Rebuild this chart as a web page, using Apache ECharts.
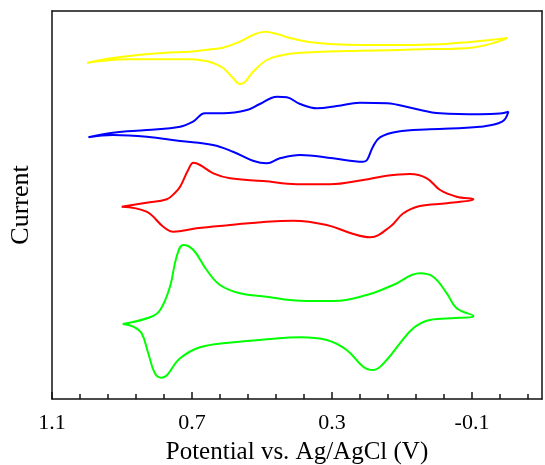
<!DOCTYPE html>
<html>
<head>
<meta charset="utf-8">
<script src="https://cdn.jsdelivr.net/npm/echarts@6/dist/echarts.min.js"></script>
<style>html,body{margin:0;padding:0;background:#fff}#c{width:545px;height:465px}</style>
</head>
<body>
<div id="c"></div>
<script>
// Potential (V vs Ag/AgCl) and current (a.u.), traced loop by loop
const yellowV = [1.000,0.926,0.783,0.706,0.640,0.611,0.563,0.526,0.491,0.457,0.420,0.371,0.306,0.211,0.106,-0.009,-0.103,-0.151,-0.200,
  -0.171,-0.103,-0.009,0.020,0.106,0.257,0.400,0.440,0.486,0.526,0.549,0.563,0.583,0.611,0.640,0.669,0.706,0.734,0.877,0.963,1.000];
const yellowI = [336,341,346,347.3,350,351.3,357.3,364,367.3,365,361,357.3,355,354,354,354.7,357.3,359,361,
  357,351.5,350,350,349,348,346,344,339,327,317,315,321,331,336,338.5,339.7,339.7,339.7,338,336];

const blueV = [0.996,0.926,0.829,0.734,0.697,0.663,0.611,0.543,0.506,0.457,0.429,0.391,0.343,0.286,0.220,0.143,0.069,-0.009,-0.123,-0.180,-0.204,
  -0.186,-0.123,0.020,0.114,0.163,0.183,0.200,0.211,0.297,0.391,0.449,0.486,0.526,0.583,0.640,0.734,0.829,0.926,0.996];
const blueI = [261.7,266.3,269,272.3,277.3,285.7,285.7,289,295,302.3,301.7,295,290.7,293,296.3,295.7,290.7,285.7,284.7,285.5,287.3,
  277.3,272.3,269.7,267.3,261.7,252.3,239,237.3,240.7,244,240.7,235.7,238.3,247.3,254,258,262.3,264,261.7];

const redV = [0.901,0.830,0.772,0.749,0.734,0.711,0.696,0.677,0.639,0.591,0.496,0.401,0.306,0.211,0.144,0.077,0.029,-0.009,-0.056,-0.104,
  -0.028,0.049,0.096,0.134,0.191,0.239,0.315,0.410,0.487,0.591,0.687,0.753,0.782,0.830,0.901];
const redI = [192.3,196.3,199.7,206,212.3,229,236.3,234,225.7,220.7,218,214.7,214.7,219,223.3,225,220.7,209,202.3,199.7,
  195.7,193,185.7,172.3,161.7,165,174,178.3,177.3,174,170.7,167.3,172.3,187.3,192.3];

const greenV = [0.898,0.820,0.791,0.763,0.744,0.725,0.696,0.658,0.620,0.563,0.487,0.391,0.296,0.201,0.125,0.049,0.011,-0.028,-0.056,-0.104,
  -0.037,0.029,0.068,0.106,0.144,0.182,0.211,0.258,0.315,0.391,0.487,0.582,0.677,0.734,0.787,0.806,0.825,0.844,0.868,0.898];
const greenI = [75,81.7,89,112.3,142.3,154,149,129,114,105.7,102.3,98.3,98,104,114,125.7,122.3,105.7,90.7,83,
  80.7,78.3,70.7,55.7,39,29,32.3,49,59,61.7,59.7,56.7,51.7,40.7,21.3,25.7,45.7,65.7,72.3,75];

// Axis: potential runs from 1.1 V (left) down to -0.3 V (right)
const vLeft = 1.1, vRight = -0.3;
const majorTicks = [1.1, 0.7, 0.3, -0.1];
const tickLabels = ['1.1', '0.7', '0.3', '-0.1'];
const minorTicks = [1.02,0.94,0.86,0.78,0.62,0.54,0.46,0.38,0.22,0.14,0.06,-0.02,-0.18,-0.26];

// axis coordinate = distance from the left end (vLeft - V)
const toAxis = v => Math.round((vLeft - v) * 1e6) / 1e6;
function pairs(v, i){ return v.map((x,k)=>[toAxis(x), i[k]]); }

const chart = echarts.init(document.getElementById('c'));
const font = 'Liberation Serif, Times New Roman, serif';
const frame = () => ({color:'#111', width:1.5});
const mk = (name, color, v, i) => ({
  name, type:'line', xAxisIndex:0, yAxisIndex:0, data: pairs(v,i), showSymbol:false, symbol:'none',
  smooth:0.4, lineStyle:{color, width:2}, itemStyle:{color}, animation:false
});
// tick marks drawn inward from the bottom axis, positioned by the axis scale
const tickSeries = (vals, len) => ({
  type:'custom', xAxisIndex:0, yAxisIndex:0, coordinateSystem:'cartesian2d',
  data: vals.map(v=>[toAxis(v), 0]), silent:true, animation:false, clip:false,
  zlevel:1, z:10,
  renderItem:(params, api) => {
    const p = api.coord([api.value(0), api.value(1)]);
    return {type:'line', shape:{x1:p[0], y1:p[1], x2:p[0], y2:p[1]-len},
      style:{stroke:'#111', lineWidth:1.5}};
  }
});
const span = toAxis(vRight);
const majorAxis = majorTicks.map(toAxis);
chart.setOption({
  animation:false,
  grid:{left:52, right:3, top:11, bottom:66, containLabel:false, outerBoundsMode:'none'},
  xAxis:[{
    type:'value', min:0, max:span, interval:0.4, position:'bottom',
    axisLine:{show:true, onZero:false, lineStyle:frame()},
    axisTick:{show:false},
    axisLabel:{show:true, margin:13, color:'#000', fontFamily:font, fontSize:22, showMaxLabel:false,
      formatter:v=>{ const k = majorAxis.findIndex(m=>Math.abs(m-v)<1e-6); return k>=0 ? tickLabels[k] : ''; }},
    splitLine:{show:false},
    name:'Potential vs. Ag/AgCl (V)', nameLocation:'middle', nameGap:41,
    nameTextStyle:{color:'#000', fontFamily:font, fontSize:25}
  },{
    type:'value', min:0, max:span, position:'top',
    axisLine:{show:true, onZero:false, lineStyle:frame()},
    axisTick:{show:false}, axisLabel:{show:false}, splitLine:{show:false}
  }],
  yAxis:[{
    type:'value', min:0, max:388, position:'left',
    axisLine:{show:true, onZero:false, lineStyle:frame()},
    axisTick:{show:false}, axisLabel:{show:false}, splitLine:{show:false}
  },{
    type:'value', min:0, max:388, position:'right',
    axisLine:{show:true, onZero:false, lineStyle:frame()},
    axisTick:{show:false}, axisLabel:{show:false}, splitLine:{show:false}
  }],
  graphic:[{type:'text', x:21, y:205, rotation:Math.PI/2,
    style:{text:'Current', fontFamily:font, fontSize:26, fill:'#000', align:'center', verticalAlign:'middle'}}],
  series:[
    mk('yellow','#ffff00',yellowV,yellowI),
    mk('blue','#0000ff',blueV,blueI),
    mk('red','#ff0000',redV,redI),
    mk('green','#00ff00',greenV,greenI),
    tickSeries(minorTicks, 5),
    tickSeries(majorTicks, 7)
  ]
});
</script>
</body>
</html>
